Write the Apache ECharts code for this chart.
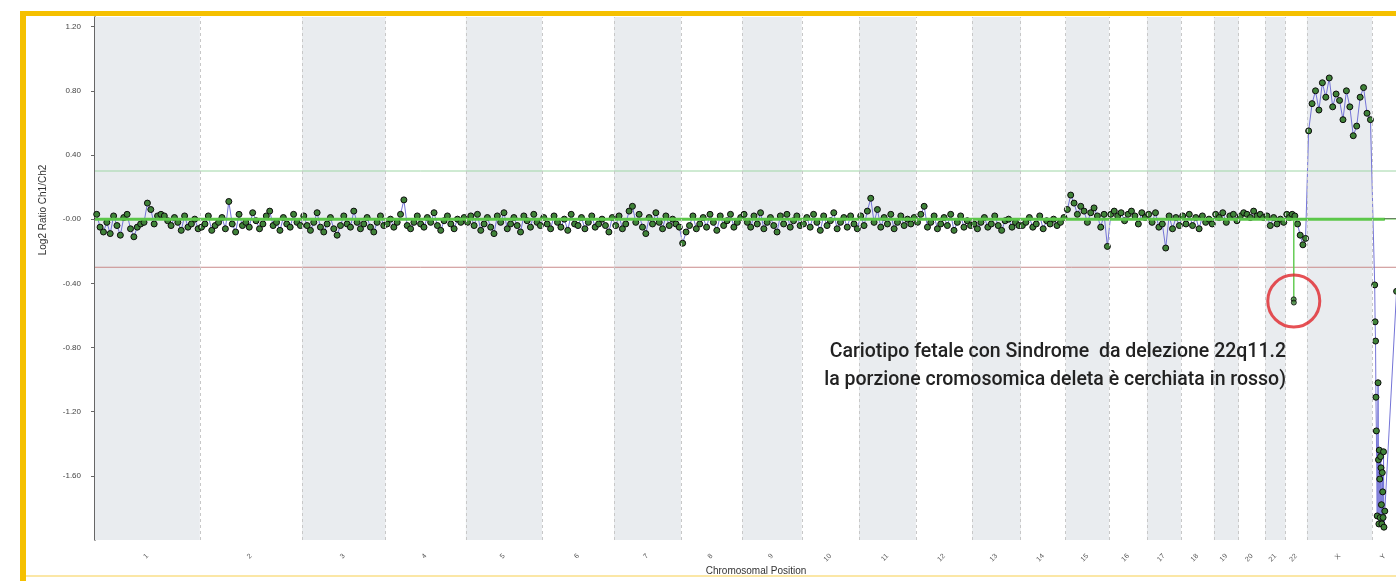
<!DOCTYPE html>
<html>
<head>
<meta charset="utf-8">
<script src="https://cdn.jsdelivr.net/npm/echarts@6/dist/echarts.min.js"></script>
<style>
  html, body { margin: 0; padding: 0; background: #fff; }
  #chart { width: 1396px; height: 581px; }
</style>
</head>
<body>
<div id="chart"></div>
<script>
// chromosome names and sizes (Mb)
const chromNames = ['1','2','3','4','5','6','7','8','9','10','11','12','13','14','15','16','17','18','19','20','21','22','X','Y'];
const chromMb = [249,243,198,191,181,171,159,146,141,136,135,134,115,107,103,90,81,78,59,63,48,51,155,59];

// log2 ratio per probe, in genome order
const chr1 = [0.03,-0.05,-0.08,-0.02,-0.09,0.02,-0.04,-0.1,0.01,0.03,-0.06,-0.11,-0.05,-0.03,-0.02,0.1,0.06,-0.03,0.02,0.03,0.02,-0.01,-0.04,0.01,-0.02,-0.07,0.02,-0.05,-0.03,0.0,-0.06];
const chr2 = [-0.05,-0.03,0.02,-0.07,-0.04,-0.02,0.01,-0.06,0.11,-0.03,-0.08,0.03,-0.04,-0.02,-0.05,0.04,-0.01,-0.06,-0.03,0.02,0.05,-0.04,-0.02,-0.07,0.01,-0.03,-0.05,0.03,-0.02,-0.04];
const chr3 = [0.02,-0.04,-0.07,-0.02,0.04,-0.05,-0.08,-0.03,0.01,-0.06,-0.1,-0.04,0.02,-0.03,-0.05,0.05,-0.02,-0.06,-0.03,0.01,-0.05,-0.08,-0.02,0.02,-0.04];
const chr4 = [-0.03,0.0,-0.05,-0.02,0.03,0.12,-0.04,-0.06,-0.02,0.02,-0.03,-0.05,0.01,-0.02,0.04,-0.04,-0.07,-0.01,0.02,-0.03,-0.06,0.0,-0.02,0.01];
const chr5 = [-0.02,0.02,-0.04,0.03,-0.07,-0.03,0.01,-0.05,-0.09,0.02,-0.02,0.04,-0.06,-0.03,0.01,-0.04,-0.08,0.02,-0.01,-0.05,0.03,-0.02,-0.04];
const chr6 = [0.01,-0.03,-0.06,0.02,-0.02,-0.05,0.0,-0.07,0.03,-0.03,-0.04,0.01,-0.06,-0.02,0.02,-0.05,-0.03,0.0,-0.04,-0.08,0.01];
const chr7 = [-0.04,0.02,-0.06,-0.03,0.05,0.08,-0.02,0.03,-0.05,-0.09,0.01,-0.03,0.04,-0.02,-0.06,0.02,-0.04,0.0,-0.03,-0.05];
const chr8 = [-0.15,-0.08,-0.04,0.02,-0.06,-0.03,0.01,-0.05,0.03,-0.02,-0.07,0.02,-0.04,-0.01,0.03,-0.05,-0.02,0.01];
const chr9 = [0.03,-0.02,-0.05,0.02,-0.03,0.04,-0.06,-0.02,0.01,-0.04,-0.08,0.02,-0.03,0.03,-0.05,-0.01,0.02,-0.04];
const chr10 = [-0.03,0.01,-0.05,0.03,-0.02,-0.07,0.02,-0.04,-0.01,0.04,-0.06,-0.02,0.01,-0.05,0.02,-0.03,-0.06];
const chr11 = [0.02,-0.04,0.05,0.13,-0.02,0.06,-0.05,0.01,-0.03,0.03,-0.06,-0.02,0.02,-0.04,0.0,-0.03,0.01];
const chr12 = [-0.02,0.03,0.08,-0.05,-0.02,0.02,-0.06,-0.03,0.01,-0.04,0.03,-0.07,-0.02,0.02,-0.05,-0.01,-0.04];
const chr13 = [-0.03,-0.06,-0.02,0.01,-0.05,-0.03,0.02,-0.04,-0.07,-0.01,0.0,-0.05,-0.02,-0.04];
const chr14 = [-0.04,-0.02,0.01,-0.05,-0.03,0.02,-0.06,-0.01,-0.03,0.0,-0.04,-0.02,0.01];
const chr15 = [0.06,0.15,0.1,0.03,0.08,0.05,-0.02,0.04,0.07,0.02,-0.05,0.03,-0.17];
const chr16 = [0.03,0.05,0.02,0.04,-0.01,0.03,0.05,0.02,-0.03,0.04,0.01];
const chr17 = [0.03,-0.02,0.04,-0.05,-0.03,-0.18,0.02,-0.06,0.01,-0.04];
const chr18 = [0.02,-0.03,0.03,-0.04,0.01,-0.06,0.02,-0.02,0.0,-0.03];
const chr19 = [0.03,0.01,0.04,-0.02,0.02,0.03,-0.01];
const chr20 = [0.02,0.04,0.03,0.01,0.05,0.02,0.03,0.01];
const chr21 = [0.02,-0.04,0.01,-0.03,0.0,-0.02];
const chr22 = [0.03,0.01,0.03,0.02,-0.03,-0.1,-0.16,-0.12];
const chrX = [0.55,0.72,0.8,0.68,0.85,0.76,0.88,0.7,0.78,0.74,0.62,0.8,0.7,0.52,0.58,0.76,0.82,0.66,0.62];
const evenProbes = [chr1,chr2,chr3,chr4,chr5,chr6,chr7,chr8,chr9,chr10,chr11,chr12,chr13,chr14,chr15,chr16,chr17,chr18,chr19,chr20,chr21,chr22,chrX];

// chrY probes only cover the first part of the chromosome
const chrYMb = [6,7,8,9,10,12,14,15,16,17,18,19,20,21,22,23,24,25,26,27,28,30,58];
const chrYVal = [-0.41,-0.64,-0.76,-1.11,-1.32,-1.85,-1.02,-1.5,-1.9,-1.44,-1.62,-1.86,-1.48,-1.55,-1.78,-1.9,-1.58,-1.7,-1.86,-1.45,-1.92,-1.82,-0.45];

// 22q11.2 deleted probes (Mb inside chr22)
const delMb = [19.6, 20.0];
const delVal = [-0.50, -0.52];

// thresholds and segment call
const gainLimit = 0.3;
const lossLimit = -0.3;
const segEndMb = 3064;

const chromStart = [];
let acc = 0;
chromMb.forEach(function (len) { chromStart.push(acc); acc += len; });
const genomeMb = acc;
const chromCenter = chromStart.map((s, i) => s + chromMb[i] / 2);

const probeData = [];
evenProbes.forEach(function (vals, c) {
  vals.forEach(function (v, i) {
    probeData.push([chromStart[c] + chromMb[c] * (i + 0.5) / vals.length, v]);
  });
});
chrYMb.forEach(function (p, i) {
  probeData.push([chromStart[23] + p, chrYVal[i]]);
});

const c22 = chromStart[21];
const delData = delMb.map((p, i) => [c22 + p, delVal[i]]);
const delCenter = [c22 + (delMb[0] + delMb[1]) / 2, (delVal[0] + delVal[1]) / 2];

const bands = [];
chromStart.forEach(function (s, i) {
  if (i % 2 === 0) bands.push([{ xAxis: s }, { xAxis: s + chromMb[i] }]);
});
const boundaries = chromStart.slice(1).map((s) => ({ xAxis: s }));

const chart = echarts.init(document.getElementById('chart'));
const pointStyle = { color: '#3f8238', borderColor: '#0c0c0c', borderWidth: 1 };

function flatLine(name, y, from, to, color, width, z) {
  return {
    name: name,
    type: 'line',
    data: [[from, y], [to, y]],
    symbol: 'none',
    silent: true,
    lineStyle: { color: color, width: width },
    z: z
  };
}

const option = {
  animation: false,
  backgroundColor: '#fff',
  grid: { left: 95, top: 17, right: -1, bottom: 41, outerBoundsMode: 'none' },
  xAxis: {
    type: 'value',
    min: 0,
    max: genomeMb,
    axisLine: { lineStyle: { color: '#222', width: 2 } },
    axisTick: { show: false },
    splitLine: { show: false },
    axisLabel: {
      customValues: chromCenter,
      rotate: 45,
      margin: 15,
      fontSize: 7,
      color: '#555',
      fontFamily: 'Liberation Sans',
      formatter: function (v) {
        let best = 0;
        chromCenter.forEach(function (c, i) {
          if (Math.abs(c - v) < Math.abs(chromCenter[best] - v)) best = i;
        });
        return chromNames[best];
      }
    }
  },
  yAxis: {
    type: 'value',
    min: -2.0,
    max: 1.26,
    interval: 0.4,
    axisLine: { show: true, lineStyle: { color: '#333', width: 1.5 } },
    axisTick: { show: true, length: 4, lineStyle: { color: '#666' } },
    splitLine: { show: false },
    axisLabel: {
      showMinLabel: false,
      showMaxLabel: false,
      margin: 14,
      fontSize: 8,
      color: '#444',
      fontFamily: 'Liberation Sans',
      formatter: function (v) {
        return Math.abs(v) < 1e-9 ? '-0.00' : v.toFixed(2);
      }
    }
  },
  series: [
    {
      name: 'bands',
      type: 'line',
      data: [[0, 0]],
      symbol: 'none',
      lineStyle: { opacity: 0 },
      silent: true,
      z: 1,
      markArea: {
        silent: true,
        itemStyle: { color: '#e9ecef' },
        data: bands
      },
      markLine: {
        silent: true,
        symbol: 'none',
        label: { show: false },
        lineStyle: { color: '#c8c8c8', type: [3, 3], width: 1 },
        data: boundaries
      }
    },
    flatLine('gain limit', gainLimit, 0, genomeMb, '#9fd6a6', 1, 2),
    flatLine('loss limit', lossLimit, 0, genomeMb, '#c98a8a', 1, 2),
    {
      name: 'probes',
      type: 'line',
      data: probeData,
      showSymbol: true,
      showAllSymbol: true,
      symbol: 'circle',
      symbolSize: 6,
      itemStyle: pointStyle,
      lineStyle: { color: '#7474d6', width: 1 },
      z: 3
    },
    flatLine('segment tail', 0, segEndMb, genomeMb, '#a9e29e', 1.5, 4),
    flatLine('segment', 0, 0, segEndMb, '#5cc74a', 3, 4),
    {
      name: 'deletion segment',
      type: 'line',
      data: [[delCenter[0], 0], [delCenter[0], delVal[1]]],
      symbol: 'none',
      lineStyle: { color: '#66cc55', width: 1.5 },
      z: 4
    },
    {
      name: 'deleted probes',
      type: 'scatter',
      data: delData,
      symbol: 'circle',
      symbolSize: 5,
      itemStyle: pointStyle,
      z: 5
    },
    {
      name: 'circle',
      type: 'scatter',
      data: [delCenter],
      symbol: 'circle',
      symbolSize: 52,
      itemStyle: { color: 'rgba(0,0,0,0)', borderColor: '#e0262b', borderWidth: 3 },
      silent: true,
      z: 6
    }
  ],
  graphic: [
    { type: 'rect', shape: { x: 20, y: 11, width: 1376, height: 5 }, style: { fill: '#f5c000' }, z: 10 },
    { type: 'rect', shape: { x: 20, y: 11, width: 6, height: 570 }, style: { fill: '#f5c000' }, z: 10 },
    { type: 'rect', shape: { x: 26, y: 575, width: 1370, height: 2 }, style: { fill: '#fbe7a6' }, z: 10 },
    {
      type: 'text', x: 43, y: 210, rotation: Math.PI / 2, z: 10,
      style: { text: 'Log2 Ratio Ch1/Ch2', fontSize: 10, fontFamily: 'Liberation Sans', fill: '#333', align: 'center', verticalAlign: 'middle' }
    },
    {
      type: 'text', x: 756, y: 571, z: 10,
      style: { text: 'Chromosomal Position', fontSize: 10, fontFamily: 'Liberation Sans', fill: '#333', align: 'center', verticalAlign: 'middle' }
    },
    {
      type: 'text', x: 1286, y: 352, z: 10,
      style: { text: 'Cariotipo fetale con Sindrome  da delezione 22q11.2', fontSize: 19.5, fontWeight: 500, fontFamily: 'Roboto', fill: '#222', align: 'right', verticalAlign: 'middle' }
    },
    {
      type: 'text', x: 1286, y: 380, z: 10,
      style: { text: 'la porzione cromosomica deleta è cerchiata in rosso)', fontSize: 19.5, fontWeight: 500, fontFamily: 'Roboto', fill: '#222', align: 'right', verticalAlign: 'middle' }
    }
  ]
};

chart.setOption(option);
</script>
</body>
</html>
